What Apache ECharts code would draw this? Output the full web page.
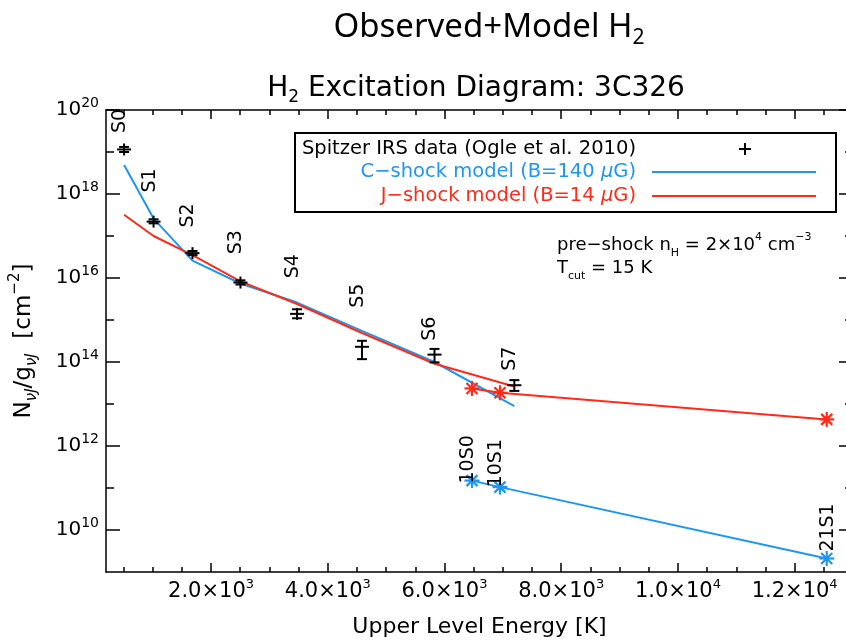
<!DOCTYPE html>
<html><head><meta charset="utf-8">
<script src="https://cdn.jsdelivr.net/npm/echarts@6/dist/echarts.min.js"></script>
<style>html,body{margin:0;padding:0;background:#fff;overflow:hidden}#c{width:846px;height:641px}</style>
</head><body><div id="c"></div>
<script>
// ---- data ----
const rotLines = ['S0', 'S1', 'S2', 'S3', 'S4', 'S5', 'S6', 'S7'];
const rotEnergy = [510, 1015, 1682, 2504, 3474, 4586, 5829, 7197];
const vibLines = ['10S0', '10S1', '21S1'];
const vibEnergy = [6471, 6951, 12550];
const obsN = [1.15e19, 2.2e17, 3.9e16, 7.8e15, 1.4e15, 2.3e14, 1.5e14, 2.8e13];
const obsLow = [1.0e19, 2.0e17, 3.5e16, 7.0e15, 1.1e15, 1.17e14, 9.8e13, 2.05e13];
const obsHigh = [1.32e19, 2.5e17, 4.4e16, 8.8e15, 1.8e15, 3.2e14, 2.05e14, 3.7e13];
const cShockRot = [4.9e18, 2.6e17, 2.6e16, 7.4e15, 2.6e15, 5.5e14, 1.0e14, 8.9e12];
const cShockVib = [1.5e11, 1.05e11, 2.1e9];
const jShockRot = [3.2e17, 1.0e17, 3.5e16, 8.3e15, 2.4e15, 4.9e14, 9.1e13, 2.6e13];
const jShockVib = [2.35e13, 1.85e13, 4.3e12];
const rotLabelN = [5.5e19, 2.1e18, 3.1e17, 7.1e16, 1.9e16, 3.8e15, 6.2e14, 1.2e14];
const vibLabelN = [4.8e11, 3.9e11, 1.15e10];
const xMajorTicks = [2000, 4000, 6000, 8000, 10000, 12000];
const xMinorTicks = [500, 1000, 1500, 2500, 3000, 3500, 4500, 5000, 5500, 6500, 7000, 7500, 8500, 9000, 9500, 10500, 11000, 11500, 12500];
const yMajorTicks = [1e10, 1e12, 1e14, 1e16, 1e18, 1e20];
const yMinorTicks = [1e11, 1e13, 1e15, 1e17, 1e19];

const BLUE = '#1c97f2', RED = '#ff2a18';
const F = 'DejaVu Sans';
const lg = v => Math.log10(v);
const pairs = (E, N) => E.map((e, i) => [e, lg(N[i])]);

const chart = echarts.init(document.getElementById('c'), null, {renderer: 'canvas'});

const xLab = v => {
  const ex = Math.floor(Math.log10(v) + 1e-9);
  const m = (v / Math.pow(10, ex)).toFixed(1);
  return '{b|' + m + '×10}{s|' + ex + '}';
};
const yLab = v => '{b|10}{s|' + Math.round(v) + '}';
const xRich = {b: {fontSize: 21, fontFamily: F, color: '#000', lineHeight: 28, verticalAlign: 'middle'},
               s: {fontSize: 13, fontFamily: F, color: '#000', lineHeight: 14, verticalAlign: 'top'}};
const yRich = {b: {fontSize: 20, fontFamily: F, color: '#000', lineHeight: 28, verticalAlign: 'middle'},
               s: {fontSize: 14, fontFamily: F, color: '#000', lineHeight: 14, verticalAlign: 'top'}};

function xAxisDef(pos, ticks, len, major, line) {
  return {type: 'value', position: pos, min: 200, max: 13000, gridIndex: 0,
    axisLine: {show: line, lineStyle: {color: '#000', width: 1.5}},
    axisTick: {show: true, inside: true, length: len, customValues: ticks, lineStyle: {color: '#000', width: 1.5}},
    axisLabel: {show: major, customValues: ticks, formatter: xLab, rich: xRich, margin: 6},
    splitLine: {show: false}};
}
function yAxisDef(pos, ticks, len, major, line) {
  return {type: 'value', position: pos, min: 9, max: 20, gridIndex: 0,
    axisLine: {show: line, lineStyle: {color: '#000', width: 1.5}},
    axisTick: {show: true, inside: true, length: len, customValues: ticks.map(lg), lineStyle: {color: '#000', width: 1.5}},
    axisLabel: {show: major, customValues: ticks.map(lg), formatter: yLab, rich: yRich, margin: 7},
    splitLine: {show: false}};
}

const xAxes = [
  xAxisDef('bottom', xMajorTicks, 9, true, true),
  xAxisDef('bottom', xMinorTicks, 5, false, false),
  xAxisDef('top', xMajorTicks, 9, false, true),
  xAxisDef('top', xMinorTicks, 5, false, false)
];
xAxes[0].name = 'Upper Level Energy [K]';
xAxes[0].nameLocation = 'middle';
xAxes[0].nameGap = 44;
xAxes[0].nameTextStyle = {fontSize: 22, fontFamily: F, color: '#000'};

const yAxes = [
  yAxisDef('left', yMajorTicks, 14, true, true),
  yAxisDef('left', yMinorTicks, 8, false, false),
  yAxisDef('right', yMajorTicks, 14, false, true),
  yAxisDef('right', yMinorTicks, 8, false, false)
];
yAxes[0].name = '{b|N}{s|νJ}{b|/g}{s|νJ}{b|  [cm}{p|−2}{b|]}';
yAxes[0].nameLocation = 'middle';
yAxes[0].nameRotate = 90;
yAxes[0].nameGap = 66;
yAxes[0].nameTextStyle = {rich: {
  b: {fontSize: 23, fontFamily: F, color: '#000', lineHeight: 32, verticalAlign: 'middle'},
  s: {fontSize: 15, fontFamily: F, fontStyle: 'italic', color: '#000', lineHeight: 15, verticalAlign: 'bottom'},
  p: {fontSize: 15, fontFamily: F, color: '#000', lineHeight: 15, verticalAlign: 'top'}
}};

function lineSeries(data, color) {
  return {type: 'line', data: data, showSymbol: false, symbol: 'none', silent: true,
    lineStyle: {color: color, width: 2}, itemStyle: {color: color}, animation: false, z: 3};
}
function starSeries(data, color) {
  return {type: 'custom', data: data, encode: {x: 0, y: 1}, animation: false, silent: true, z: 4,
    renderItem: (params, api) => {
      const p = api.coord([api.value(0), api.value(1)]);
      const r = 7.5, d = 5.5;
      const st = {stroke: color, lineWidth: 2.2};
      return {type: 'group', children: [
        {type: 'line', shape: {x1: p[0], y1: p[1] - r, x2: p[0], y2: p[1] + r}, style: st},
        {type: 'line', shape: {x1: p[0] - r, y1: p[1], x2: p[0] + r, y2: p[1]}, style: st},
        {type: 'line', shape: {x1: p[0] - d, y1: p[1] - d, x2: p[0] + d, y2: p[1] + d}, style: st},
        {type: 'line', shape: {x1: p[0] - d, y1: p[1] + d, x2: p[0] + d, y2: p[1] - d}, style: st}
      ]};
    }};
}

const obsData = rotEnergy.map((e, i) => [e, lg(obsN[i]), lg(obsLow[i]), lg(obsHigh[i])]);
const obsSeries = {type: 'custom', data: obsData, encode: {x: 0, y: 1}, animation: false, silent: true, z: 5,
  renderItem: (params, api) => {
    const x = api.value(0);
    const c = api.coord([x, api.value(1)]);
    const lo = api.coord([x, api.value(2)]);
    const hi = api.coord([x, api.value(3)]);
    const st = {stroke: '#000', lineWidth: 2};
    const top = Math.min(hi[1], c[1] - 6), bot = Math.max(lo[1], c[1] + 6);
    return {type: 'group', children: [
      {type: 'line', shape: {x1: c[0], y1: top, x2: c[0], y2: bot}, style: st},
      {type: 'line', shape: {x1: c[0] - 7, y1: c[1], x2: c[0] + 7, y2: c[1]}, style: st},
      {type: 'line', shape: {x1: c[0] - 5, y1: hi[1], x2: c[0] + 5, y2: hi[1]}, style: st},
      {type: 'line', shape: {x1: c[0] - 5, y1: lo[1], x2: c[0] + 5, y2: lo[1]}, style: st}
    ]};
  }};

const allNames = rotLines.concat(vibLines);
const labelData = rotEnergy.concat(vibEnergy).map((e, i) => [e, lg(rotLabelN.concat(vibLabelN)[i])]);
const labelSeries = {type: 'custom', data: labelData, encode: {x: 0, y: 1}, animation: false, silent: true, z: 6,
  clip: false,
  renderItem: (params, api) => {
    const p = api.coord([api.value(0), api.value(1)]);
    const name = allNames[params.dataIndex];
    const dx = name === '21S1' ? 1 : -4;
    return {type: 'text', x: p[0] + dx, y: p[1], rotation: Math.PI / 2,
      style: {text: name, fontSize: 19, fontFamily: F, fill: '#000', align: 'center', verticalAlign: 'middle'}};
  }};

const LF = 19.5;
const option = {
  backgroundColor: '#fff',
  animation: false,
  grid: {left: 106, top: 110, width: 747, height: 462, containLabel: false, outerBoundsMode: 'none'},
  xAxis: xAxes,
  yAxis: yAxes,
  series: [
    lineSeries(pairs(rotEnergy, cShockRot), BLUE),
    lineSeries(pairs(vibEnergy, cShockVib), BLUE),
    lineSeries(pairs(rotEnergy, jShockRot), RED),
    lineSeries(pairs(vibEnergy, jShockVib), RED),
    starSeries(pairs(vibEnergy, cShockVib), BLUE),
    starSeries(pairs(vibEnergy, jShockVib), RED),
    obsSeries,
    labelSeries
  ],
  graphic: [
    {type: 'text', x: 489, y: 28, z: 10, style: {
      text: 'Observed+Model H{sub|2}', align: 'center', verticalAlign: 'middle',
      fontSize: 33, fontFamily: 'Noto Sans', fill: '#000',
      rich: {sub: {fontSize: 21, fontFamily: 'Noto Sans', fill: '#000', verticalAlign: 'bottom', lineHeight: 21, padding: [0, 0, -4, 0]}}}},
    {type: 'text', x: 476, y: 89, z: 10, style: {
      text: 'H{sub|2} Excitation Diagram: 3C326', align: 'center', verticalAlign: 'middle',
      fontSize: 28, fontFamily: F, fill: '#000',
      rich: {sub: {fontSize: 17, fontFamily: F, fill: '#000', verticalAlign: 'bottom', lineHeight: 17, padding: [0, 0, -3, 0]}}}},
    {type: 'rect', z: 10, shape: {x: 295, y: 133, width: 541, height: 79},
      style: {fill: '#fff', stroke: '#000', lineWidth: 2}},
    {type: 'text', x: 636, y: 149, z: 11, style: {fontSize: LF, fontFamily: F,
      text: 'Spitzer IRS data (Ogle et al. 2010)', align: 'right', verticalAlign: 'middle', fill: '#000'}},
    {type: 'text', x: 636, y: 172, z: 11, style: {fontSize: LF, fontFamily: F,
      text: 'C−shock model (B=140 {i|μ}G)', align: 'right', verticalAlign: 'middle', fill: BLUE,
      rich: {i: {fontSize: LF, fontFamily: F, fontStyle: 'italic', fill: BLUE}}}},
    {type: 'text', x: 636, y: 196, z: 11, style: {fontSize: LF, fontFamily: F,
      text: 'J−shock model (B=14 {i|μ}G)', align: 'right', verticalAlign: 'middle', fill: RED,
      rich: {i: {fontSize: LF, fontFamily: F, fontStyle: 'italic', fill: RED}}}},
    {type: 'line', z: 11, shape: {x1: 739, y1: 149, x2: 751, y2: 149}, style: {stroke: '#000', lineWidth: 2}},
    {type: 'line', z: 11, shape: {x1: 745, y1: 143, x2: 745, y2: 155}, style: {stroke: '#000', lineWidth: 2}},
    {type: 'line', z: 11, shape: {x1: 652, y1: 172, x2: 816, y2: 172}, style: {stroke: BLUE, lineWidth: 2}},
    {type: 'line', z: 11, shape: {x1: 652, y1: 196, x2: 816, y2: 196}, style: {stroke: RED, lineWidth: 2}},
    {type: 'text', x: 557, y: 245, z: 11, style: {
      text: 'pre−shock n{sub|H} = 2×10{sup|4} cm{sup|−3}', align: 'left', verticalAlign: 'middle',
      fontSize: 18, fontFamily: F, fill: '#000',
      rich: {sub: {fontSize: 11, fontFamily: F, fill: '#000', verticalAlign: 'bottom', lineHeight: 11, padding: [0, 0, -5, 0]},
             sup: {fontSize: 11, fontFamily: F, fill: '#000', verticalAlign: 'top', lineHeight: 11, padding: [-4, 0, 0, 0]}}}},
    {type: 'text', x: 557, y: 268, z: 11, style: {
      text: 'T{sub|cut} = 15 K', align: 'left', verticalAlign: 'middle',
      fontSize: 18, fontFamily: F, fill: '#000',
      rich: {sub: {fontSize: 11, fontFamily: F, fill: '#000', verticalAlign: 'bottom', lineHeight: 11, padding: [0, 0, -5, 0]}}}}
  ]
};
chart.setOption(option);
</script></body></html>
